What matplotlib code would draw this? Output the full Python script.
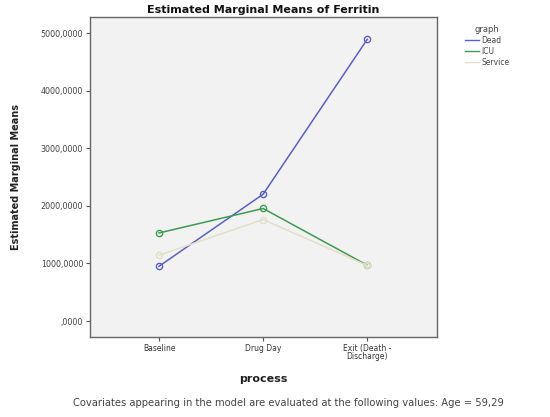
import matplotlib
matplotlib.use("Agg")
import matplotlib.pyplot as plt
from matplotlib.lines import Line2D

categories = ["Baseline", "Drug Day", "Exit (Death -\nDischarge)"]
groups = ["Dead", "ICU", "Service"]
dead = [951, 2203, 4894]
icu = [1530, 1955, 969]
service = [1143, 1763, 965]
yticks = [0, 1000, 2000, 3000, 4000, 5000]
ytick_labels = [",0000", "1000,0000", "2000,0000", "3000,0000", "4000,0000", "5000,0000"]
colors = ["#5b60bf", "#3f9a50", "#e2dfc8"]

fig = plt.figure(figsize=(5.5, 4.17), dpi=100)
fig.patch.set_facecolor("white")
ax = fig.add_axes([90/550, 1-337/417, 347/550, 320/417])
ax.set_facecolor("#f2f2f2")

x = list(range(len(categories)))
for vals, c, name in zip([dead, icu, service], colors, groups):
    ax.plot(x, vals, color=c, lw=1.1, marker="o", ms=4.5, mfc="none", mec=c, mew=1.0, label=name)

ax.set_xlim(-0.663, 2.67)
ax.set_ylim(-278, 5282)
ax.set_xticks(x)
ax.set_xticklabels(categories, fontsize=5.5, color="#333333", linespacing=0.9)
ax.set_yticks(yticks)
ax.set_yticklabels(ytick_labels, fontsize=5.8, color="#444444")
ax.tick_params(axis="both", length=3, width=0.8, color="#555555", pad=2)
for s in ax.spines.values():
    s.set_color("#666666")
    s.set_linewidth(1.0)

ax.set_ylabel("Estimated Marginal Means", fontsize=7, fontweight="bold", color="#222222", labelpad=14)
ax.set_xlabel("process", fontsize=8, fontweight="bold", color="#222222")
ax.xaxis.set_label_coords(0.5, (337-379)/320, transform=ax.transAxes)
ax.xaxis.label.set_va("center")
ax.set_title("Estimated Marginal Means of Ferritin", fontsize=8, fontweight="bold", color="#111111", pad=3)

handles = [Line2D([0], [0], color=c, lw=1.0) for c in colors]
leg = fig.legend(handles, groups, title="graph", loc="upper left",
                 bbox_to_anchor=(462/550, 1-22/417), frameon=False,
                 fontsize=5.5, title_fontsize=6, handlelength=1.8,
                 handletextpad=0.3, labelspacing=0.25, borderaxespad=0)
for t in leg.get_texts():
    t.set_color("#444444")
leg.get_title().set_color("#444444")

fig.text(288/550, 1-403/417, "Covariates appearing in the model are evaluated at the following values: Age = 59,29",
         ha="center", va="center", fontsize=7.2, color="#444444")

fig.savefig("out.png", dpi=100)
